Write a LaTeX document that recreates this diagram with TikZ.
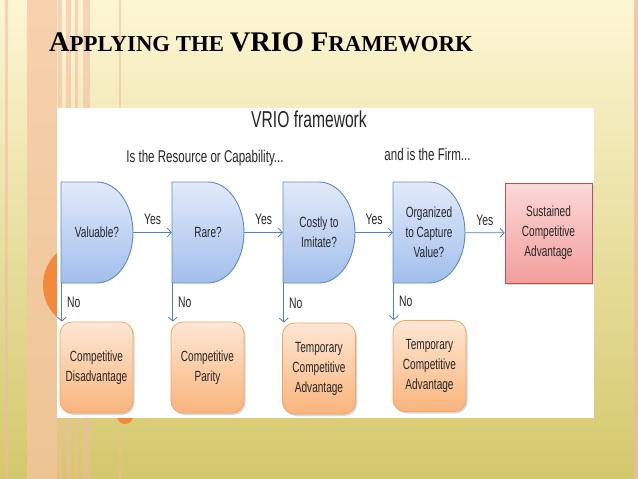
\documentclass[tikz,border=0pt]{standalone}
\usepackage{fontspec}
\setmainfont{Liberation Serif}
\newfontfamily\narrowsf[FakeStretch=0.68]{Liberation Sans}
\usetikzlibrary{arrows.meta,shadows,positioning}

\definecolor{bgtop}{HTML}{FDF6D4}
\definecolor{bgmid}{HTML}{F8EDA8}
\definecolor{bgbot}{HTML}{D4C86C}
\definecolor{stripe}{HTML}{F4B8A4}
\definecolor{band}{HTML}{F6C4A2}
\definecolor{orng}{HTML}{F3873A}
\definecolor{ink}{HTML}{262626}
\definecolor{qtop}{HTML}{E2EAF9}
\definecolor{qbot}{HTML}{A2BEEC}
\definecolor{qline}{HTML}{5B8AC9}
\definecolor{rtop}{HTML}{FBD8D8}
\definecolor{rbot}{HTML}{F29E9C}
\definecolor{rline}{HTML}{B85450}
\definecolor{otop}{HTML}{FDE7D4}
\definecolor{obot}{HTML}{F9B47C}
\definecolor{oline}{HTML}{F3A462}
\definecolor{flowc}{HTML}{4F81BD}

\newcommand\tbig[1]{{\fontsize{28.4}{28}\selectfont #1}}
\newcommand\tsmall[1]{{\fontsize{22.8}{22}\selectfont #1}}

\tikzset{
  qshape/.style={top color=qtop, bottom color=qbot, draw=qline, line width=0.9pt},
  qbox/.style={minimum width=72pt, minimum height=101pt, inner sep=0pt, align=center,
    font=\narrowsf\fontsize{14.8}{20}\selectfont, text=ink},
  goalbox/.style={rectangle, minimum width=87pt, minimum height=100pt, inner sep=0pt,
    top color=rtop, bottom color=rbot, draw=rline, line width=0.8pt,
    drop shadow={shadow xshift=1.5pt, shadow yshift=-2pt, opacity=0.3},
    align=center, font=\narrowsf\fontsize{14.8}{20}\selectfont, text=ink},
  outbox/.style={rectangle, rounded corners=12pt, minimum width=73pt, minimum height=91pt,
    inner sep=0pt, top color=otop, bottom color=obot, draw=oline, line width=0.8pt,
    drop shadow={shadow xshift=1.5pt, shadow yshift=-2pt, opacity=0.3},
    align=center, font=\narrowsf\fontsize{14.8}{20}\selectfont, text=ink},
  flow/.style={draw=flowc, line width=0.8pt, -{Straight Barb[length=4pt,width=9pt]}},
  lbl/.style={font=\narrowsf\fontsize{15.2}{15}\selectfont, text=ink, inner sep=1pt}
}

\begin{document}
\begin{tikzpicture}[x=1pt,y=-1pt]
\useasboundingbox (0,0) rectangle (638,479);
% slide background and stripes
\shade[top color=bgtop, middle color=bgmid, bottom color=bgbot] (0,0) rectangle (638,479);
\fill[band, opacity=.75] (27,0) rectangle (57,479);
\foreach \a/\b in {5/8, 58/62, 66/71, 75/78, 83/90, 119/120.5}
  \fill[stripe, opacity=.55] (\a,0) rectangle (\b,479);
\fill[stripe, opacity=.8] (634,0) rectangle (638,479);
\fill[orng] (87,285) circle[radius=44];
\fill[orng] (125,416) circle[radius=8];
% title
\node[anchor=base west, inner sep=0pt, font=\bfseries] (title) at (49,51)
  {\tbig{A}\tsmall{PPLYING THE }\tbig{VRIO F}\tsmall{RAMEWORK}};
% white panel
\fill[white] (57,108) rectangle (594,418);
\node[anchor=base, inner sep=0pt, font=\narrowsf\fontsize{23}{23}\selectfont, text=ink] (head) at (309,127) {VRIO framework};
\node[anchor=base, inner sep=0pt, font=\narrowsf\fontsize{17}{17}\selectfont, text=ink] (resq) at (205,162) {Is the Resource or Capability...};
\node[anchor=base, inner sep=0pt, font=\narrowsf\fontsize{17}{17}\selectfont, text=ink] (firmq) at (427.5,160) {and is the Firm...};
% the four questions
\foreach \x/\nm/\txt in {61/val/{Valuable?}, 172/rare/{Rare?}, 283/imit/{Costly to\\Imitate?}, 393/org/{Organized\\to Capture\\Value?}} {
  \shade[qshape] (\x,182) -- ++(36,0) arc[x radius=36, y radius=50.5, start angle=-90, end angle=90] -- ++(-36,0) -- cycle;
  \node[qbox] (\nm) at (\x+36,232.5) {\txt};
}
\node[goalbox] (sca) at (548.5,233) {Sustained\\Competitive\\Advantage};
% outcomes
\node[outbox] (dis) at (96.5,367.5) {Competitive\\Disadvantage};
\node[outbox] (par) at (207.5,367.5) {Competitive\\Parity};
\node[outbox] (tca1) at (319,368.5) {Temporary\\Competitive\\Advantage};
\node[outbox] (tca2) at (429.5,366) {Temporary\\Competitive\\Advantage};
% yes arrows
\draw[flow] (val) -- node[lbl, above=6pt] {Yes} (rare);
\draw[flow] (rare) -- node[lbl, above=6pt] {Yes} (imit);
\draw[flow] (imit) -- node[lbl, above=6pt] {Yes} (org);
\draw[flow] (org) -- node[lbl, above=6pt] {Yes} (sca);
% no arrows
\draw[flow] ([xshift=1pt]val.south west) -- ([xshift=1pt]val.south west |- dis.north) node[lbl, midway, right=4pt] {No};
\draw[flow] ([xshift=1pt]rare.south west) -- ([xshift=1pt]rare.south west |- par.north) node[lbl, midway, right=4pt] {No};
\draw[flow] ([xshift=1pt]imit.south west) -- ([xshift=1pt]imit.south west |- tca1.north) node[lbl, midway, right=4pt] {No};
\draw[flow] ([xshift=1pt]org.south west) -- ([xshift=1pt]org.south west |- tca2.north) node[lbl, midway, right=4pt] {No};
\end{tikzpicture}
\end{document}
